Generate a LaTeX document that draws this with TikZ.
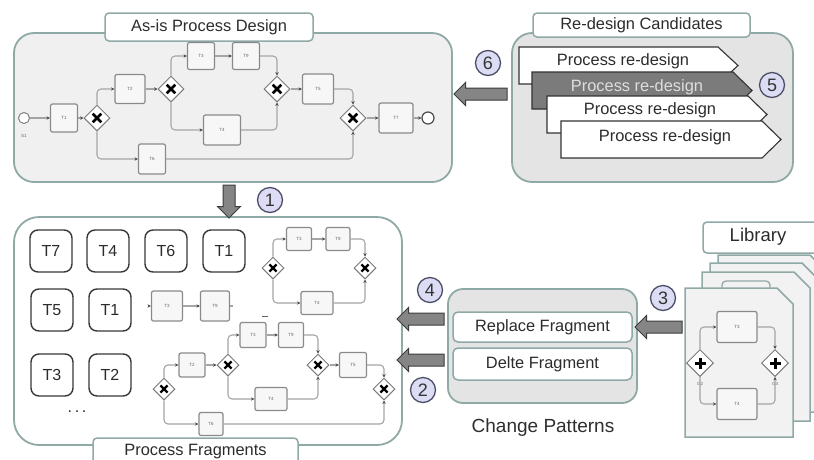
\documentclass[tikz,border=0pt]{standalone}
\usepackage{fontspec}
\setmainfont{Liberation Sans}
\usetikzlibrary{shapes.geometric,shapes.arrows,arrows.meta}

\definecolor{frame}{HTML}{8FA9A6}
\definecolor{panelfill}{HTML}{F0F0F0}
\definecolor{cpfill}{HTML}{E4E4E4}
\definecolor{pagefill}{HTML}{F2F2F2}
\definecolor{numfill}{HTML}{DCDCF4}
\definecolor{numline}{HTML}{4E4E68}
\definecolor{flowline}{HTML}{A5A5A5}
\definecolor{taskline}{HTML}{8A8A8A}
\definecolor{gateline}{HTML}{7A7A7A}
\definecolor{arrowfill}{HTML}{858585}
\definecolor{arrowline}{HTML}{3C3C3C}
\definecolor{textgray}{HTML}{2C2C2C}
\definecolor{chevdark}{HTML}{7B7B7B}

\begin{document}
\begin{tikzpicture}[x=1pt,y=-1pt,
  panel/.style={draw=frame, line width=1.8pt, inner sep=0pt},
  tab/.style={draw=frame, line width=1.5pt, fill=white, rounded corners=4pt, inner sep=0pt,
    font=\fontsize{16.4}{18}\selectfont, text=textgray},
  lbl/.style={inner sep=0pt, font=\fontsize{16.4}{18}\selectfont, text=textgray},
  num/.style={circle, draw=numline, fill=numfill, line width=1.3pt, minimum size=25pt,
    inner sep=0pt, font=\fontsize{18}{20}\selectfont, text=black!80},
  block/.style={single arrow, draw=arrowline, fill=arrowfill, line width=1pt,
    inner xsep=0pt, inner ysep=5.5pt, single arrow head extend=5.5pt},
  task/.style={draw=taskline, fill=white!97!black, line width=1.2pt, rounded corners=2pt,
    inner sep=0pt, font=\fontsize{4.5}{5}\selectfont, text=black!60},
  bigtask/.style={draw=black!78, fill=white, line width=1.4pt, rounded corners=8pt,
    minimum size=42pt, inner sep=0pt, font=\fontsize{16}{18}\selectfont, text=textgray},
  xgate/.style={diamond, draw=gateline, fill=white, line width=1pt, minimum size=26pt, inner sep=0pt,
    path picture={\draw[line width=2.6pt, black] (path picture bounding box.center)
      ++(-4.3,-4.3) -- ++(8.6,8.6) ++(0,-8.6) -- ++(-8.6,8.6);}},
  xgatesm/.style={diamond, draw=gateline, fill=white, line width=1pt, minimum size=22pt, inner sep=0pt,
    path picture={\draw[line width=2.3pt, black] (path picture bounding box.center)
      ++(-3.6,-3.6) -- ++(7.2,7.2) ++(0,-7.2) -- ++(-7.2,7.2);}},
  pgate/.style={diamond, draw=gateline, fill=white, line width=1pt, minimum size=27pt, inner sep=0pt,
    path picture={\draw[line width=3pt, black] (path picture bounding box.center)
      ++(-5.5,0) -- ++(11,0) ++(-5.5,-5.5) -- ++(0,11);}},
  flow/.style={draw=flowline, line width=1.1pt, rounded corners=4pt,
    -{Stealth[length=3.4pt,width=3.4pt,color=black!70]}},
  plainflow/.style={draw=flowline, line width=1.1pt, rounded corners=4pt},
  chev/.style={draw=black!80, line width=1.1pt},
  page/.style={draw=frame, fill=pagefill, line width=1.5pt},
  tiny/.style={inner sep=0pt, font=\fontsize{4.5}{5}\selectfont, text=black!60}
]
\useasboundingbox (0,0) rectangle (814,459);
\clip (0,0) rectangle (814,459);

% ---------------- As-is process design ----------------
\node[panel, fill=panelfill, rounded corners=20pt, minimum width=438pt, minimum height=149pt]
  (asis) at (233,107.5) {};
\node[tab, minimum width=208pt, minimum height=28pt] (asistab) at (209,27) {As-is Process Design};

\node[circle, draw=black!50, fill=white, line width=1pt, minimum size=11pt, inner sep=0pt] (s1) at (24,118) {};
\node[tiny] at (24,136) {S1};
\node[task, minimum width=27pt, minimum height=28pt] (t1) at (64,118) {T1};
\node[xgate] (g1) at (97,118) {};
\node[task, minimum width=30pt, minimum height=29pt] (t2) at (130,89) {T2};
\node[xgate] (g2) at (171,89) {};
\node[task, minimum width=27pt, minimum height=27pt] (t3) at (201,56) {T3};
\node[task, minimum width=27pt, minimum height=27pt] (t9) at (246,56) {T9};
\node[task, minimum width=37pt, minimum height=30pt] (t4) at (222,130) {T4};
\node[task, minimum width=27pt, minimum height=30pt] (t6) at (152,159) {T6};
\node[xgate] (g3) at (277,89) {};
\node[task, minimum width=31pt, minimum height=30pt] (t5) at (318,89) {T5};
\node[xgate] (g4) at (353,118) {};
\node[task, minimum width=34pt, minimum height=30pt] (t7) at (396,118) {T7};
\node[circle, draw=black!70, fill=white, line width=1.2pt, minimum size=12pt, inner sep=0pt] (e1) at (428,118) {};

\draw[flow] (s1) -- (t1);
\draw[flow] (t1) -- (g1);
\draw[flow] (g1.north) |- (t2);
\draw[flow] (g1.south) |- (t6);
\draw[flow] (t2) -- (g2);
\draw[flow] (g2.north) |- (t3);
\draw[flow] (g2.south) |- (t4);
\draw[flow] (t3) -- (t9);
\draw[flow] (t9) -| (g3.north);
\draw[flow] (t4) -| (g3.south);
\draw[flow] (g3) -- (t5);
\draw[flow] (t5) -| (g4.north);
\draw[flow] (t6) -| (g4.south);
\draw[flow] (g4) -- (t7);
\draw[flow] (t7) -- (e1);

% ---------------- Re-design candidates ----------------
\node[panel, fill=panelfill!95!black, rounded corners=20pt, minimum width=281pt, minimum height=149pt]
  (cand) at (652.5,107.5) {};
\node[tab, minimum width=217pt, minimum height=24pt] (candtab) at (641.5,25) {Re-design Candidates};

\path[chev, fill=white] (519,47) -- (718,47) -- (738,65.5) -- (718,84) -- (519,84) -- cycle;
\node[lbl] (c1) at (623,61) {Process re-design};
\path[chev, fill=chevdark] (532,72) -- (733,72) -- (752,90.5) -- (733,109) -- (532,109) -- cycle;
\node[lbl, text=white!87!black] (c2) at (637,87) {Process re-design};
\path[chev, fill=white] (547,96) -- (748,96) -- (767,114.5) -- (748,133) -- (547,133) -- cycle;
\node[lbl] (c3) at (650,110) {Process re-design};
\path[chev, fill=white] (561,121) -- (762,121) -- (781,139.5) -- (762,158) -- (561,158) -- cycle;
\node[lbl] (c4) at (665,137) {Process re-design};

\node[num] (n5) at (772,85) {5};
\node[block, rotate=180, minimum height=53pt] (a6) at (483.5,94) {};
\node[num] (n6) at (488,63) {6};

% ---------------- Process fragments ----------------
\node[panel, fill=white, rounded corners=25pt, minimum width=388pt, minimum height=228pt]
  (frag) at (208,331) {};
\node[tab, minimum width=205pt, minimum height=28pt] (fragtab) at (195.5,452) {Process Fragments};

\node[block, rotate=-90, minimum height=33pt] (a1) at (229,198.5) {};
\node[num] (n1) at (270,200) {1};

\node[bigtask] (b1) at (51,251) {T7};
\node[bigtask] (b2) at (108,251) {T4};
\node[bigtask] (b3) at (166,251) {T6};
\node[bigtask] (b4) at (224,251) {T1};
\node[bigtask] (b5) at (52,310) {T5};
\node[bigtask] (b6) at (110,310) {T1};
\node[bigtask] (b7) at (52,375) {T3};
\node[bigtask] (b8) at (110,375) {T2};
\node[lbl, font=\fontsize{16}{18}\selectfont] (dots) at (77,412) {.\,.\,.};

% chain T3 -> T9
\coordinate (fin) at (148,306);
\coordinate (fout) at (233,306);
\node[task, minimum width=31pt, minimum height=30pt] (ft3) at (167,306) {T3};
\node[task, minimum width=29pt, minimum height=30pt] (ft9) at (215,306) {T9};
\draw[flow] (fin) -- (ft3);
\draw[flow] (ft3) -- (ft9);
\draw[plainflow] (ft9) -- (fout);

% loop fragment
\node[xgatesm] (ga1) at (273,268) {};
\node[task, minimum width=25pt, minimum height=23pt] (at3) at (299,239) {T3};
\node[task, minimum width=24pt, minimum height=23pt] (at9) at (338,239) {T9};
\node[task, minimum width=32pt, minimum height=23pt] (at4) at (317,303) {T4};
\node[xgatesm] (ga2) at (365,268) {};
\draw[flow] (ga1.north) |- (at3);
\draw[flow] (at3) -- (at9);
\draw[flow] (at9) -| (ga2.north);
\draw[flow] (ga1.south) |- (at4);
\draw[flow] (at4) -| (ga2.south);
\draw[black!60, line width=1pt] (262,316) -- (268,316);

% larger fragment
\node[xgatesm] (gb1) at (164,389) {};
\node[task, minimum width=26pt, minimum height=24pt] (bt2) at (192,365) {T2};
\node[xgatesm] (gb2) at (228,365) {};
\node[task, minimum width=26pt, minimum height=25pt] (bt3) at (253,335) {T3};
\node[task, minimum width=25pt, minimum height=25pt] (bt9) at (291,335) {T9};
\node[task, minimum width=32pt, minimum height=23pt] (bt4) at (271,399) {T4};
\node[xgatesm] (gb3) at (318,365) {};
\node[task, minimum width=27pt, minimum height=25pt] (bt5) at (353,365) {T5};
\node[xgatesm] (gb4) at (384,389) {};
\node[task, minimum width=24pt, minimum height=23pt] (bt6) at (211,424) {T6};
\draw[flow] (gb1.north) |- (bt2);
\draw[flow] (bt2) -- (gb2);
\draw[flow] (gb2.north) |- (bt3);
\draw[flow] (bt3) -- (bt9);
\draw[flow] (bt9) -| (gb3.north);
\draw[flow] (gb2.south) |- (bt4);
\draw[flow] (bt4) -| (gb3.south);
\draw[flow] (gb3) -- (bt5);
\draw[flow] (bt5) -| (gb4.north);
\draw[flow] (gb1.south) |- (bt6);
\draw[flow] (bt6) -| (gb4.south);

% ---------------- Change patterns ----------------
\node[panel, fill=cpfill, rounded corners=15pt, minimum width=189pt, minimum height=114pt]
  (cp) at (542.5,346) {};
\node[tab, rounded corners=5pt, minimum width=179pt, minimum height=30pt] (rep) at (542.5,327) {Replace Fragment};
\node[tab, rounded corners=5pt, minimum width=179pt, minimum height=32pt] (del) at (542.5,364) {Delte Fragment};
\node[lbl, font=\fontsize{19}{21}\selectfont, text=black!82] (cptitle) at (543,428) {Change Patterns};

\node[block, rotate=180, minimum height=47pt] (a4) at (423.5,319) {};
\node[block, rotate=180, minimum height=47pt] (a2) at (423.5,360) {};
\node[num] (n4) at (430,290) {4};
\node[num] (n2) at (423,390) {2};

% ---------------- Library ----------------
\node[tab, minimum width=137pt, minimum height=31pt] (libtab) at (771.5,237.5) {};
\node[lbl, font=\fontsize{18.5}{20}\selectfont] (libtitle) at (758,237) {Library};

\path[page] (718,255) -- (810,255) -- (826,271) -- (826,404) -- (718,404) -- cycle;
\path[page] (710,263) -- (802,263) -- (818,279) -- (818,412) -- (710,412) -- cycle;
\path[page] (702,272) -- (794,272) -- (810,288) -- (810,421) -- (702,421) -- cycle;
\path[draw=frame, fill=pagefill, line width=1.3pt, rounded corners=4pt] (722,296) rectangle (770,281);
\path[page] (685,288) -- (777,288) -- (793,304) -- (793,437) -- (685,437) -- cycle;

\node[pgate] (lg2) at (700,363) {};
\node[pgate] (lg4) at (775,363) {};
\node[tiny] at (700,384) {G2};
\node[tiny] at (775,384) {G4};
\node[task, minimum width=40pt, minimum height=31pt] (lt3) at (737,327) {T3};
\node[task, minimum width=40pt, minimum height=31pt] (lt4) at (737,404) {T4};
\draw[flow] (lg2.north) |- (lt3);
\draw[flow] (lt3) -| (lg4.north);
\draw[flow] (lg2.south) |- (lt4);
\draw[flow] (lt4) -| (lg4.south);

\node[block, rotate=180, minimum height=47pt] (a3) at (661.5,327) {};
\node[num] (n3) at (663,298) {3};
\end{tikzpicture}
\end{document}
